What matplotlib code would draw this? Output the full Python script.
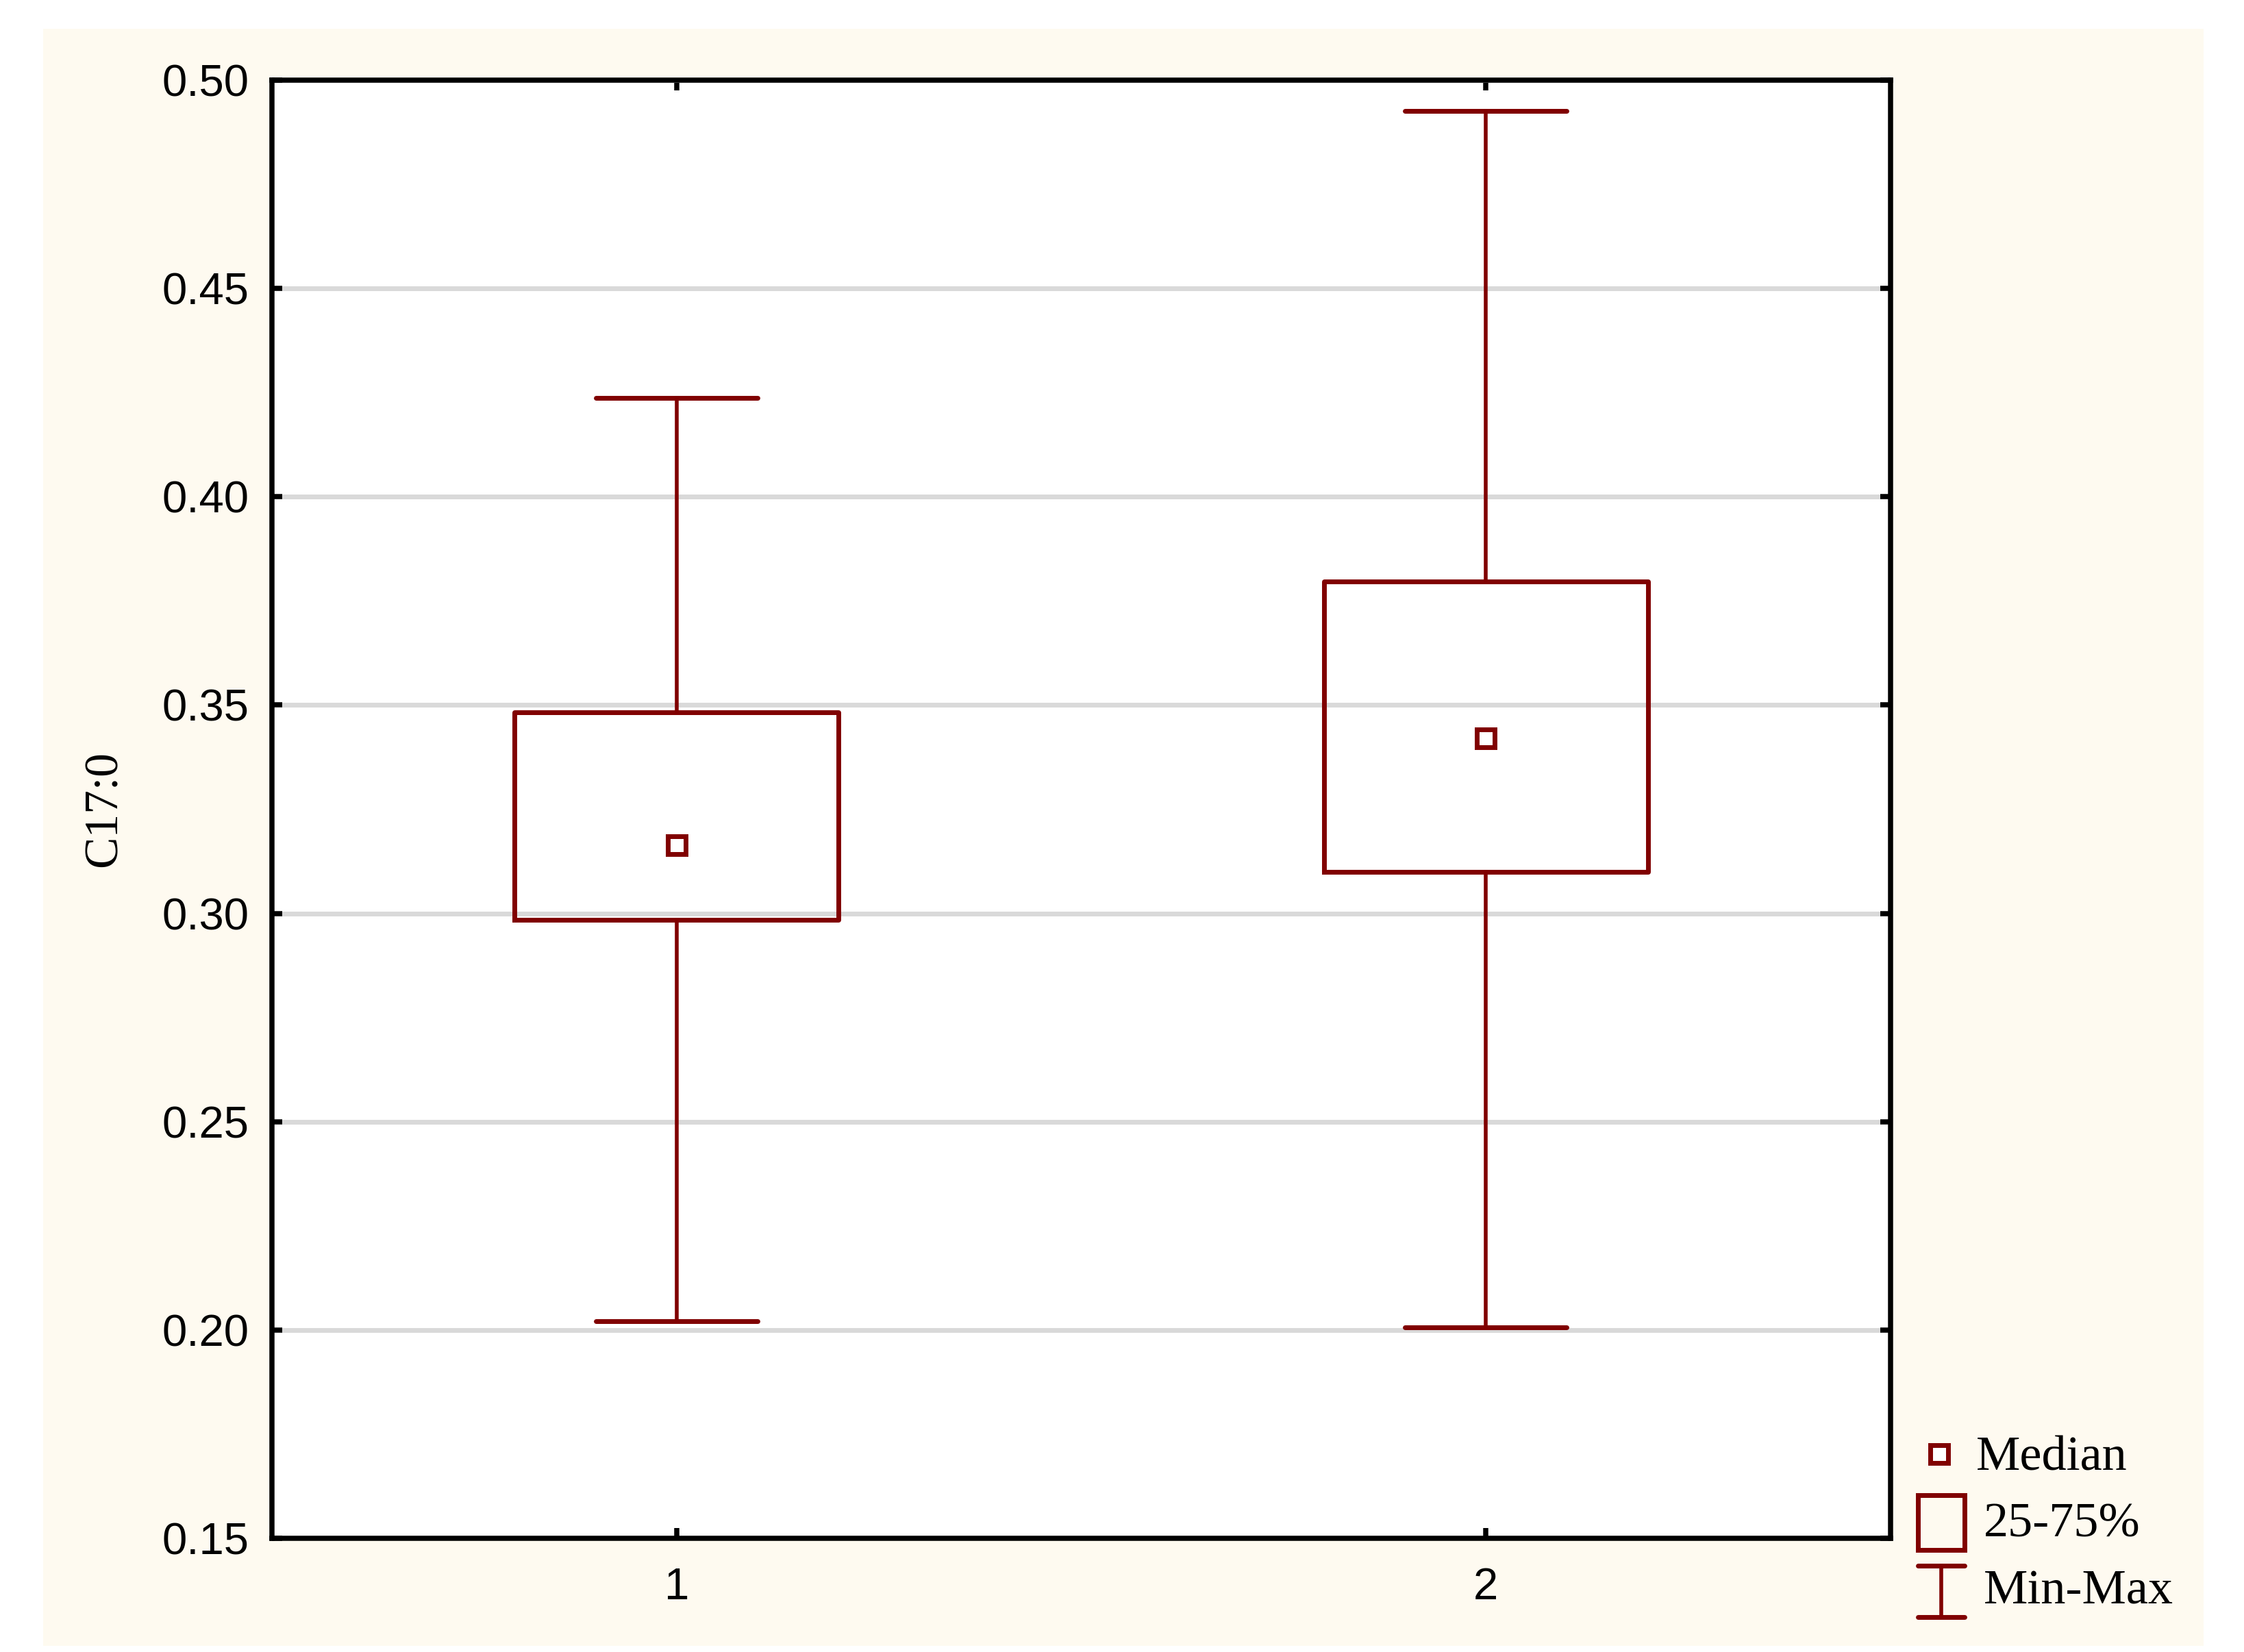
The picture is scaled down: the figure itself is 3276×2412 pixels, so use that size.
import matplotlib
matplotlib.use("Agg")
from matplotlib import pyplot as plt
from matplotlib.patches import Rectangle
from matplotlib.lines import Line2D

# values
groups = ["1", "2"]
minimum = [0.2021, 0.2007]
q1 = [0.2985, 0.3100]
median = [0.3163, 0.3420]
q3 = [0.3483, 0.3797]
maximum = [0.4237, 0.4926]
yticks = [0.15, 0.20, 0.25, 0.30, 0.35, 0.40, 0.45, 0.50]

RED = "#800000"
CREAM = "#fefaf0"

fig = plt.figure(figsize=(16.38, 12.06), dpi=200)
fig.patch.set_facecolor("white")
fig.patches.append(Rectangle((0.0192, 0.0037), 0.9628, 0.9789, transform=fig.transFigure,
                             facecolor=CREAM, edgecolor="none", zorder=-10))

ax = fig.add_axes([0.1212, 0.0688, 0.7213, 0.8827])
ax.set_facecolor("white")

stats = []
for i in range(len(groups)):
    stats.append(dict(label=groups[i], whislo=minimum[i], q1=q1[i], med=median[i],
                      q3=q3[i], whishi=maximum[i]))
pos = list(range(1, len(groups) + 1))
ax.bxp(stats, positions=pos, widths=0.4, capwidths=0.2, showfliers=False,
       boxprops=dict(color=RED, linewidth=2.5),
       whiskerprops=dict(color=RED, linewidth=2.0),
       capprops=dict(color=RED, linewidth=2.5, solid_capstyle="round"),
       medianprops=dict(linewidth=0))
ax.plot(pos, median, "s", ms=9.5, mfc="white", mec=RED, mew=2.5, zorder=5)

ax.set_xlim(0.5, 2.5)
ax.set_ylim(0.15, 0.50)
ax.set_yticks(yticks)
ax.set_yticklabels(["%.2f" % v for v in yticks])
ax.set_xticks(pos)
ax.set_xticklabels(groups)
ax.yaxis.grid(True, color="#d9d9d9", linewidth=2.5)
ax.set_axisbelow(True)

for s in ax.spines.values():
    s.set_linewidth(2.7)
    s.set_color("black")
ax.tick_params(direction="in", length=5.4, width=2.7, top=True, right=True,
               labelsize=23.5, colors="black")
ax.tick_params(axis="y", pad=12)
ax.tick_params(axis="x", pad=15)
for lab in ax.get_xticklabels() + ax.get_yticklabels():
    lab.set_family("Liberation Sans")

ax.set_ylabel("C17:0", family="Liberation Serif", fontsize=25)
ax.yaxis.set_label_coords(-0.090, 0.5)

# legend drawn by hand, like the original
fig.add_artist(Line2D([0.8642], [0.1198], marker="s", ms=9.5, mfc="white", mec=RED, mew=2.5,
                      transform=fig.transFigure))
fig.add_artist(Rectangle((0.8547, 0.0618), 0.0208, 0.0331, transform=fig.transFigure,
                         facecolor="none", edgecolor=RED, linewidth=2.5))
fig.add_artist(Line2D([0.8547, 0.8755], [0.0522, 0.0522], color=RED, lw=2.5,
                      solid_capstyle="round", transform=fig.transFigure))
fig.add_artist(Line2D([0.8547, 0.8755], [0.0211, 0.0211], color=RED, lw=2.5,
                      solid_capstyle="round", transform=fig.transFigure))
fig.add_artist(Line2D([0.8651, 0.8651], [0.0211, 0.0522], color=RED, lw=2.0,
                      transform=fig.transFigure))
fig.text(0.8807, 0.1175, "Median", family="Liberation Serif", fontsize=26, va="center")
fig.text(0.8840, 0.0770, "25-75%", family="Liberation Serif", fontsize=26, va="center")
fig.text(0.8840, 0.0365, "Min-Max", family="Liberation Serif", fontsize=26, va="center")

fig.savefig("out.png", dpi=200, facecolor=fig.get_facecolor())
